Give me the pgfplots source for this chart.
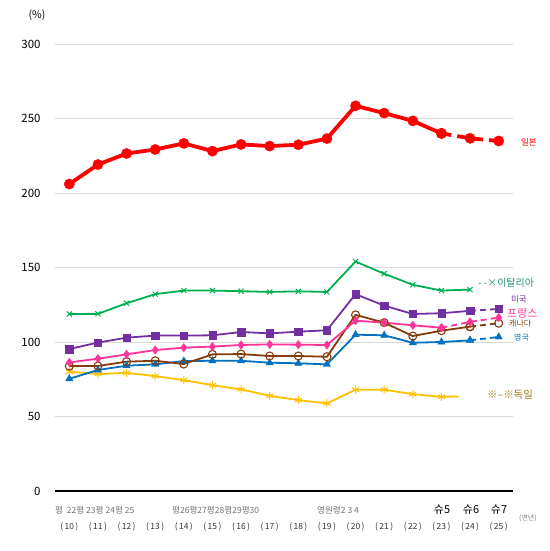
\documentclass[border=0pt]{standalone}
\usepackage{pgfplots}
\pgfplotsset{compat=1.18}
\usepackage{fontspec}
\setmainfont{Noto Sans CJK KR}

\definecolor{jpred}{HTML}{FF0000}
\definecolor{itgreen}{HTML}{00B050}
\definecolor{ittext}{HTML}{1A8C74}
\definecolor{uspurple}{HTML}{7030A0}
\definecolor{frpink}{HTML}{FF3399}
\definecolor{cabrown}{HTML}{843C0C}
\definecolor{ukblue}{HTML}{0070C0}
\definecolor{degold}{HTML}{FFC000}
\definecolor{detext}{HTML}{9C7A1E}
\definecolor{gridgray}{HTML}{D9D9D9}

\begin{document}
\begin{tikzpicture}
\begin{axis}[
  scale only axis,
  width=458bp, height=447bp,
  xmin=9.5, xmax=25.5, ymin=0, ymax=300,
  xtick={10,...,25},
  xticklabels={(\,10\,),(\,11\,),(\,12\,),(\,13\,),(\,14\,),(\,15\,),(\,16\,),(\,17\,),(\,18\,),(\,19\,),(\,20\,),(\,21\,),(\,22\,),(\,23\,),(\,24\,),(\,25\,)},
  ytick={0,50,...,300},
  axis x line*=bottom, axis y line*=left,
  y axis line style={draw=none},
  x axis line style={black, line width=1.2bp, -},
  major tick length=0,
  ymajorgrids,
  grid style={gridgray, line width=0.9bp},
  yticklabel style={font=\fontsize{11.5}{13}\selectfont, xshift=-11bp},
  xticklabel style={font=\fontsize{8.5}{10}\selectfont, text=black!80, yshift=-28bp},
  /pgf/number format/assume math mode=true,
  clip=false,
  every axis plot/.append style={line width=1.8bp},
]
% Germany
\addplot[degold, mark=asterisk, mark size=4bp, mark options={line width=1bp}] coordinates {
  (10,80.0) (11,78.5) (12,79.3) (13,77.1) (14,74.4) (15,71.0) (16,68.2) (17,63.9)
  (18,61.0) (19,58.8) (20,68.0) (21,68.0) (22,65.0) (23,63.2)
};
\addplot[degold, no marks] coordinates {(23,63.2) (23.6,63.5)};
% UK
\addplot[ukblue, mark=triangle*, mark size=4.2bp, mark options={line width=0.4bp}] coordinates {
  (10,75.3) (11,81.2) (12,84.1) (13,85.0) (14,87.2) (15,87.4) (16,87.4) (17,86.1)
  (18,85.7) (19,85.0) (20,104.9) (21,104.5) (22,99.5) (23,100.0) (24,101.1)
};
\addplot[ukblue, dash pattern=on 6bp off 4bp, mark=triangle*, mark size=4.2bp, mark options={solid, line width=0.4bp}] coordinates {
  (24,101.1) (25,103.4)
};
% Canada
\addplot[cabrown, mark=o, mark size=4bp, mark options={fill=white, line width=1.1bp}] coordinates {
  (10,83.8) (11,83.9) (12,86.8) (13,87.4) (14,85.2) (15,91.7) (16,91.9) (17,90.6)
  (18,90.6) (19,90.1) (20,118.2) (21,113.0) (22,104.0) (23,107.6) (24,110.3)
};
\addplot[cabrown, dash pattern=on 6bp off 4bp, mark=o, mark size=4bp, mark options={solid, fill=white, line width=1.1bp}] coordinates {
  (24,110.3) (25,112.6)
};
% France
\addplot[frpink, mark=diamond*, mark size=4.2bp, mark options={line width=0.4bp}] coordinates {
  (10,86.3) (11,88.8) (12,91.7) (13,94.6) (14,96.2) (15,96.9) (16,98.0) (17,98.4)
  (18,98.2) (19,98.0) (20,114.3) (21,113.0) (22,111.2) (23,109.6)
};
\addplot[frpink, dash pattern=on 6bp off 4bp, mark=diamond*, mark size=4.2bp, mark options={solid, line width=0.4bp}] coordinates {
  (23,109.6) (24,113.5) (25,116.4)
};
% USA
\addplot[uspurple, mark=square*, mark size=3.7bp, mark options={line width=0.4bp}] coordinates {
  (10,95.3) (11,99.6) (12,102.9) (13,104.3) (14,104.3) (15,104.5) (16,106.7) (17,105.8)
  (18,106.9) (19,107.9) (20,132.1) (21,124.4) (22,118.8) (23,119.3) (24,120.9)
};
\addplot[uspurple, dash pattern=on 6bp off 4bp, mark=square*, mark size=3.7bp, mark options={solid, line width=0.4bp}] coordinates {
  (24,120.9) (25,122.2)
};
% Italy
\addplot[itgreen, mark=x, mark size=3.6bp, mark options={line width=1bp}] coordinates {
  (10,118.8) (11,118.9) (12,126.0) (13,132.1) (14,134.5) (15,134.5) (16,134.1) (17,133.6)
  (18,134.0) (19,133.6) (20,154.0) (21,145.8) (22,138.4) (23,134.5) (24,135.2)
};
% Japan
\addplot[jpred, line width=3.8bp, mark=*, mark size=5.2bp, mark options={line width=0.3bp}] coordinates {
  (10,206.0) (11,219.1) (12,226.5) (13,229.2) (14,233.3) (15,228.1) (16,232.6) (17,231.5)
  (18,232.4) (19,236.5) (20,258.5) (21,253.6) (22,248.4) (23,240.0)
};
\addplot[jpred, line width=3.8bp, dash pattern=on 10bp off 6bp, mark=*, mark size=5.2bp, mark options={solid, line width=0.3bp}] coordinates {
  (23,240.0) (24,236.7) (25,234.9)
};
\end{axis}
\coordinate (O) at (current axis.south west);
\begin{scope}[every node/.style={inner sep=0pt}]
\node[anchor=center, font=\fontsize{10.5}{12}\selectfont] at ([shift={(-18bp,476bp)}]O) {(\%)};
\node[anchor=west, text=jpred, font=\fontsize{8.5}{10}\selectfont] at ([shift={(466bp,349bp)}]O) {일본};
\node[anchor=west, text=ittext, font=\fontsize{10}{12}\selectfont] at ([shift={(423bp,208bp)}]O) {{\color{itgreen}-} -×이탈리아};
\node[anchor=west, text=uspurple, font=\fontsize{8.5}{10}\selectfont] at ([shift={(456bp,192bp)}]O) {미국};
\node[anchor=west, text=frpink, font=\fontsize{11}{13}\selectfont] at ([shift={(452bp,178bp)}]O) {프랑스};
\node[anchor=west, text=cabrown, font=\fontsize{8}{10}\selectfont] at ([shift={(454bp,167bp)}]O) {캐나다};
\node[anchor=west, text=ukblue, font=\fontsize{8}{10}\selectfont] at ([shift={(459bp,153bp)}]O) {영국};
\node[anchor=west, text=detext, font=\fontsize{10.5}{12}\selectfont] at ([shift={(432bp,96bp)}]O) {※--※독일};
\node[anchor=west, text=black!50, font=\fontsize{7}{9}\selectfont] at ([shift={(464bp,-27bp)}]O) {(연년)};
\node[anchor=west, text=black!55, font=\fontsize{8.6}{10}\selectfont] at ([shift={(0bp,-19bp)}]O) {평\ \ 22평 23평 24평 25};
\node[anchor=west, text=black!55, font=\fontsize{8.6}{10}\selectfont] at ([shift={(117bp,-19bp)}]O) {평26평27평28평29평30};
\node[anchor=west, text=black!55, font=\fontsize{8.6}{10}\selectfont] at ([shift={(262bp,-19bp)}]O) {영원령2 3 4};
\node[anchor=center, font=\fontsize{11}{13}\selectfont] at ([shift={(387bp,-19bp)}]O) {슈5};
\node[anchor=center, font=\fontsize{11}{13}\selectfont] at ([shift={(416bp,-19bp)}]O) {슈6};
\node[anchor=center, font=\fontsize{11}{13}\selectfont] at ([shift={(444bp,-19bp)}]O) {슈7};
\end{scope}
\pgfresetboundingbox
\useasboundingbox ([shift={(-55bp,491bp)}]O) rectangle ([shift={(495bp,-60bp)}]O);
\end{tikzpicture}
\end{document}
